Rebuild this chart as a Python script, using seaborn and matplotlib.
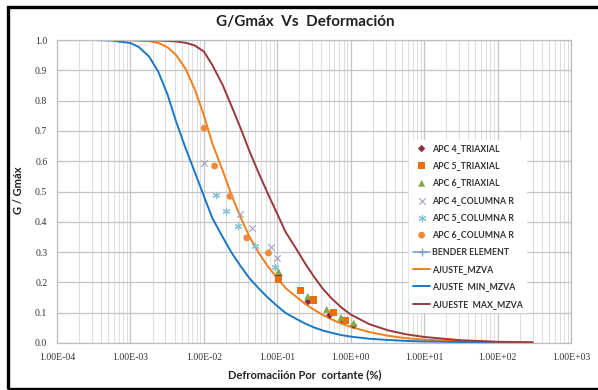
import matplotlib
matplotlib.use("Agg")
import matplotlib.pyplot as plt
import seaborn as sns
from matplotlib.patches import Rectangle
from matplotlib.ticker import FixedLocator, LogLocator, NullFormatter

# deformacion por cortante (%) for the fitted curves
gamma = [0.0001, 0.00032, 0.00056, 0.001, 0.0013, 0.0018, 0.0024, 0.0032, 0.0042,
         0.0056, 0.0075, 0.01, 0.013, 0.018, 0.024, 0.032, 0.042, 0.056, 0.075,
         0.1, 0.13, 0.18, 0.24, 0.32, 0.42, 0.56, 0.75, 1.0, 1.8, 3.2, 5.6, 10,
         32, 100, 300]
ajuste_mzva = [1.0, 1.0, 1.0, 0.999, 0.998, 0.996, 0.99, 0.976, 0.95, 0.906,
               0.838, 0.752, 0.66, 0.57, 0.486, 0.412, 0.35, 0.297, 0.252, 0.214,
               0.181, 0.153, 0.129, 0.109, 0.092, 0.077, 0.064, 0.053, 0.036, 0.024,
               0.016, 0.011, 0.006, 0.003, 0.002]
ajuste_min = [1.0, 1.0, 0.998, 0.99, 0.977, 0.945, 0.895, 0.82, 0.73, 0.645,
              0.565, 0.485, 0.413, 0.35, 0.297, 0.252, 0.213, 0.18, 0.149, 0.122,
              0.099, 0.08, 0.064, 0.051, 0.041, 0.033, 0.026, 0.021, 0.014, 0.01,
              0.007, 0.005, 0.003, 0.002, 0.001]
ajuste_max = [1.0, 1.0, 1.0, 1.0, 0.999, 0.999, 0.998, 0.997, 0.995, 0.991,
              0.982, 0.962, 0.918, 0.852, 0.78, 0.706, 0.632, 0.56, 0.491, 0.426,
              0.366, 0.312, 0.262, 0.217, 0.178, 0.145, 0.117, 0.094, 0.062, 0.042,
              0.029, 0.02, 0.009, 0.004, 0.002]

# ensayos
apc4_tri_x = [0.105, 0.263, 0.52, 0.77, 1.1]
apc4_tri_y = [0.223, 0.137, 0.092, 0.075, 0.058]
apc5_tri_x = [0.104, 0.21, 0.31, 0.58, 0.85]
apc5_tri_y = [0.211, 0.172, 0.142, 0.1, 0.073]
apc6_tri_x = [0.104, 0.26, 0.47, 0.74, 1.1]
apc6_tri_y = [0.236, 0.154, 0.111, 0.084, 0.066]
apc4_col_x = [0.01, 0.031, 0.045, 0.083, 0.1]
apc4_col_y = [0.595, 0.427, 0.379, 0.317, 0.28]
apc5_col_x = [0.0146, 0.02, 0.0295, 0.0505, 0.092]
apc5_col_y = [0.487, 0.435, 0.387, 0.321, 0.251]
apc6_col_x = [0.0101, 0.014, 0.0227, 0.0384, 0.076]
apc6_col_y = [0.709, 0.584, 0.484, 0.347, 0.297]
bender_x = []
bender_y = []

x_ticks = [1e-4, 1e-3, 1e-2, 1e-1, 1e0, 1e1, 1e2, 1e3]
x_tick_labels = ["1.00E-04", "1.00E-03", "1.00E-02", "1.00E-01",
                 "1.00E+00", "1.00E+01", "1.00E+02", "1.00E+03"]
y_ticks = [0.0, 0.1, 0.2, 0.3, 0.4, 0.5, 0.6, 0.7, 0.8, 0.9, 1.0]

sns.set_style("white")
plt.rcParams['font.family'] = ['Lato', 'DejaVu Sans']

fig = plt.figure(figsize=(5.98, 3.9), dpi=100)
ax = fig.add_axes([57/598, 47/390, 514/598, 303/390])

sns.scatterplot(x=apc4_tri_x, y=apc4_tri_y, ax=ax, marker='D', s=14, color='#8e2a3a',
                edgecolor='none', label='APC 4_TRIAXIAL', zorder=3)
sns.scatterplot(x=apc5_tri_x, y=apc5_tri_y, ax=ax, marker='s', s=26, color='#e8700f',
                edgecolor='none', label='APC 5_TRIAXIAL', zorder=3)
sns.scatterplot(x=apc6_tri_x, y=apc6_tri_y, ax=ax, marker='^', s=26, color='#86a84b',
                edgecolor='none', label='APC 6_TRIAXIAL', zorder=3)
sns.scatterplot(x=apc4_col_x, y=apc4_col_y, ax=ax, marker='x', s=22, color='#a3a3c2',
                linewidth=0.8, label='APC 4_COLUMNA R', zorder=3)
sns.scatterplot(x=apc5_col_x, y=apc5_col_y, ax=ax, marker=(6, 2, 0), s=22, color='#7cc3d3',
                linewidth=0.8, label='APC 5_COLUMNA R', zorder=3)
sns.scatterplot(x=apc6_col_x, y=apc6_col_y, ax=ax, marker='o', s=24, color='#ee8a3c',
                edgecolor='none', label='APC 6_COLUMNA R', zorder=3)
ax.plot(bender_x, bender_y, color='#7f9fcf', marker='+', lw=1.2, ms=6,
        label='BENDER ELEMENT')
sns.lineplot(x=gamma, y=ajuste_mzva, ax=ax, color='#f07f1e', lw=1.4, label='AJUSTE_MZVA')
sns.lineplot(x=gamma, y=ajuste_min, ax=ax, color='#1a78c8', lw=1.4, label='AJUSTE  MIN_MZVA')
sns.lineplot(x=gamma, y=ajuste_max, ax=ax, color='#98393d', lw=1.4, label='AJUESTE  MAX_MZVA')

ax.set_xscale('log')
ax.set_xlim(1e-4, 1e3)
ax.set_ylim(0, 1)
ax.xaxis.set_major_locator(FixedLocator(x_ticks))
ax.set_xticklabels(x_tick_labels)
ax.xaxis.set_minor_locator(LogLocator(base=10, subs=range(2, 10), numticks=20))
ax.xaxis.set_minor_formatter(NullFormatter())
ax.set_yticks(y_ticks)
ax.set_yticklabels([f"{v:.1f}" for v in y_ticks])
ax.grid(which='major', axis='x', color='#c4c4c4', lw=0.9)
ax.grid(which='minor', axis='x', color='#dcdcdc', lw=0.7)
ax.grid(which='major', axis='y', color='#c4c4c4', lw=0.9)
ax.set_axisbelow(True)
ax.tick_params(which='both', length=0, labelsize=7, pad=7, colors='#333333')
for lab in ax.get_xticklabels() + ax.get_yticklabels():
    lab.set_family('Liberation Serif')
for sp in ax.spines.values():
    sp.set_color('#bdbdbd')
    sp.set_linewidth(0.9)

ax.set_xlabel('')
ax.set_ylabel('')
fig.text(305/598, 1 - 22/390, 'G/Gmáx  Vs  Deformación', ha='center', va='center',
         fontsize=11, weight='bold', color='#222222')
fig.text(305/598, 1 - 375/390, 'Defromaciión Por  cortante (%)', ha='center',
         va='center', fontsize=8, weight='bold', color='#222222')
fig.text(19/598, 1 - 190/390, 'G / Gmáx', ha='center', va='center', rotation=90,
         fontsize=8, weight='bold', color='#222222')

handles, labels = ax.get_legend_handles_labels()
leg = ax.legend(handles, labels, loc='upper left', bbox_to_anchor=(405/598, 1 - 136/390),
                bbox_transform=fig.transFigure, frameon=True, fancybox=False,
                edgecolor='white', facecolor='white', framealpha=1,
                prop={'size': 6.3, 'weight': 'bold'}, labelspacing=0.95,
                handlelength=2.0, handletextpad=0.15, borderpad=0.4)
for t in leg.get_texts():
    t.set_color('#333333')

fig.patches.append(Rectangle((8/598, 1/390), 1.0, 382/390, transform=fig.transFigure,
                             fill=False, edgecolor='black', lw=2.4, figure=fig))

fig.savefig('out.png', dpi=100)
